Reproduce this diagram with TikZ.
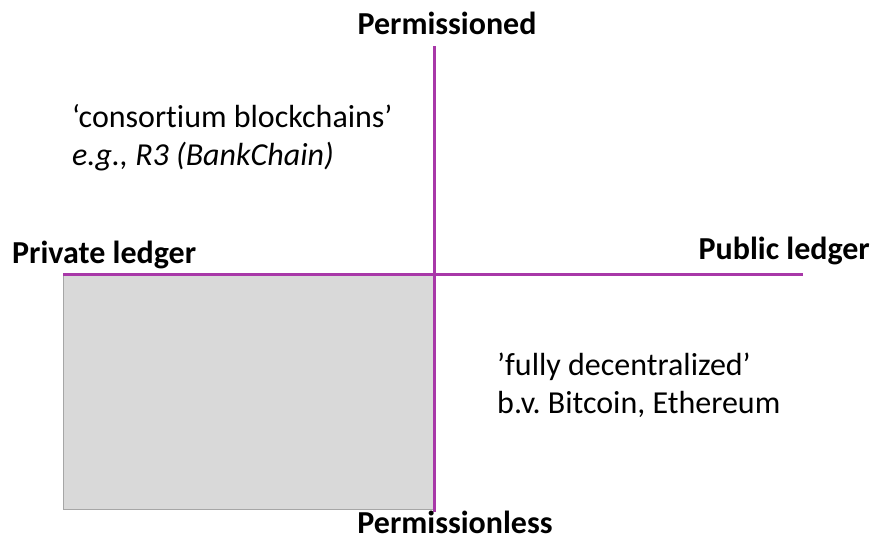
\documentclass[tikz,border=0pt]{standalone}
\usepackage{fontspec}
\setmainfont{Carlito}[Ligatures=NoCommon]
\usepackage{tikz}
\usetikzlibrary{positioning}
\frenchspacing
\definecolor{axispurple}{RGB}{168,56,168}
\definecolor{boxgray}{RGB}{217,217,217}
\tikzstyle{every node}=[inner sep=0pt,font=\fontsize{32}{38}\selectfont]
\tikzstyle{axis}=[draw=axispurple,line width=3pt]
\tikzstyle{pole}=[font=\fontsize{32}{38}\selectfont\bfseries]
\tikzstyle{note}=[anchor=base west,align=left]

\begin{document}
\begin{tikzpicture}[x=1pt,y=-1pt]
  \useasboundingbox (0,0) rectangle (874,542);
  \coordinate (top) at (434,46);
  \coordinate (bottom) at (434,512);
  \coordinate (left) at (63,274);
  \coordinate (right) at (803,274);
  \coordinate (shadeend) at (434,509);
  % shaded quadrant
  \fill[boxgray,draw=gray!70,line width=0.5pt] (left) rectangle (shadeend);
  % axes
  \draw[axis] (left) -- (right);
  \draw[axis] (top) -- (bottom);
  % axis labels
  \node[pole,anchor=base] (permissioned) at (447,34) {Permissioned};
  \node[pole,anchor=base] (permissionless) at (455,533) {Permissionless};
  \node[pole,anchor=base west] (private) at (12,263) {Private ledger};
  \node[pole,anchor=base east] (public) at (870,259) {Public ledger};
  % quadrant notes (anchored at last line)
  \node[note] (consortium) at (72,165) {‘consortium blockchains’\\\itshape e.g., R3 (BankChain)};
  \node[note] (decentral) at (497,413) {’fully decentralized’\\b.v. Bitcoin, Ethereum};
\end{tikzpicture}
\end{document}
